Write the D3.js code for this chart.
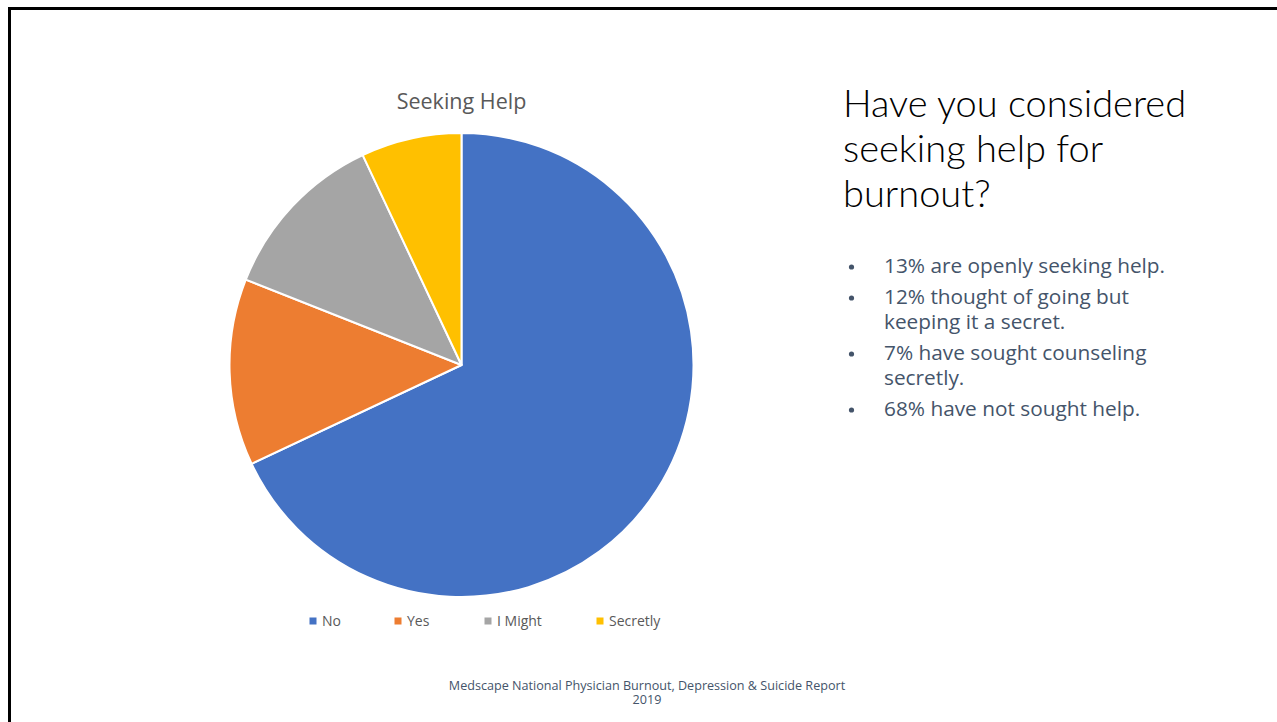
<!DOCTYPE html>
<html>
<head>
<meta charset="utf-8">
<script src="https://cdn.jsdelivr.net/npm/d3@7"></script>
<style>
  html, body { margin: 0; padding: 0; background: #fff; }
  svg { display: block; }
</style>
</head>
<body>
<svg id="slide" width="1277" height="722"></svg>
<script>
// Survey answers for "Seeking Help"
const categories = ["No", "Yes", "I Might", "Secretly"];
const shares = [68, 13, 12, 7];
const colors = ["#4472C4", "#ED7D31", "#A5A5A5", "#FFC000"];

const headingLines = ["Have you considered", "seeking help for", "burnout?"];
const bulletItems = [
  ["13% are openly seeking help."],
  ["12% thought of going but", "keeping it a secret."],
  ["7% have sought counseling", "secretly."],
  ["68% have not sought help."]
];
const sourceLines = ["Medscape National Physician Burnout, Depression & Suicide Report", "2019"];

const svg = d3.select("#slide");
const headFont = "Lato, sans-serif";
const font = "'Open Sans', Lato, sans-serif";

// slide frame
svg.append("rect")
  .attr("x", 9.5).attr("y", 8.5)
  .attr("width", 1300).attr("height", 800)
  .attr("fill", "none").attr("stroke", "#000").attr("stroke-width", 3);

// pie
const cx = 461.5, cy = 365, r = 232;
const pie = d3.pie().sort(null).value(d => d.v);
const arc = d3.arc().innerRadius(0).outerRadius(r);
const data = categories.map((c, i) => ({ c, v: shares[i], color: colors[i] }));

const g = svg.append("g").attr("transform", `translate(${cx},${cy})`);
g.selectAll("path")
  .data(pie(data))
  .join("path")
  .attr("d", arc)
  .attr("fill", d => d.data.color)
  .attr("stroke", "#fff")
  .attr("stroke-width", 2)
  .attr("stroke-linejoin", "round");

// chart title
svg.append("text")
  .attr("x", cx).attr("y", 109)
  .attr("text-anchor", "middle")
  .attr("font-family", font).attr("font-size", 21.5)
  .attr("fill", "#595959")
  .text("Seeking Help");

// legend
const legendPos = { "No": 313, "Yes": 398, "I Might": 488, "Secretly": 600 };
const items = svg.append("g").selectAll("g").data(data).join("g")
  .attr("transform", d => `translate(${legendPos[d.c]},621)`);
items.append("rect")
  .attr("x", -3.5).attr("y", -3.5).attr("width", 7).attr("height", 7)
  .attr("fill", d => d.color);
items.append("text")
  .attr("x", 9).attr("y", 5)
  .attr("font-family", font).attr("font-size", 14)
  .attr("fill", "#595959")
  .text(d => d.c);

// heading
svg.append("g").selectAll("text").data(headingLines).join("text")
  .attr("x", 843)
  .attr("y", (d, i) => 117 + i * 45)
  .attr("font-family", headFont).attr("font-weight", 300).attr("font-size", 38)
  .attr("fill", "#000")
  .text(d => d);

// bullet list
let y = 273;
const bl = svg.append("g").attr("font-family", font).attr("font-size", 20.8).attr("fill", "#44546A");
bulletItems.forEach(lines => {
  bl.append("circle").attr("cx", 851.5).attr("cy", y - 6).attr("r", 2.6).attr("fill", "#44546A");
  lines.forEach((line, j) => {
    bl.append("text").attr("x", 884).attr("y", y + j * 25).text(line);
  });
  y += (lines.length - 1) * 25 + 31;
});

// source note
svg.append("g").selectAll("text").data(sourceLines).join("text")
  .attr("x", 647)
  .attr("y", (d, i) => 690 + i * 13.5)
  .attr("text-anchor", "middle")
  .attr("font-family", font).attr("font-size", 12.6)
  .attr("fill", "#44546A")
  .text(d => d);
</script>
</body>
</html>
